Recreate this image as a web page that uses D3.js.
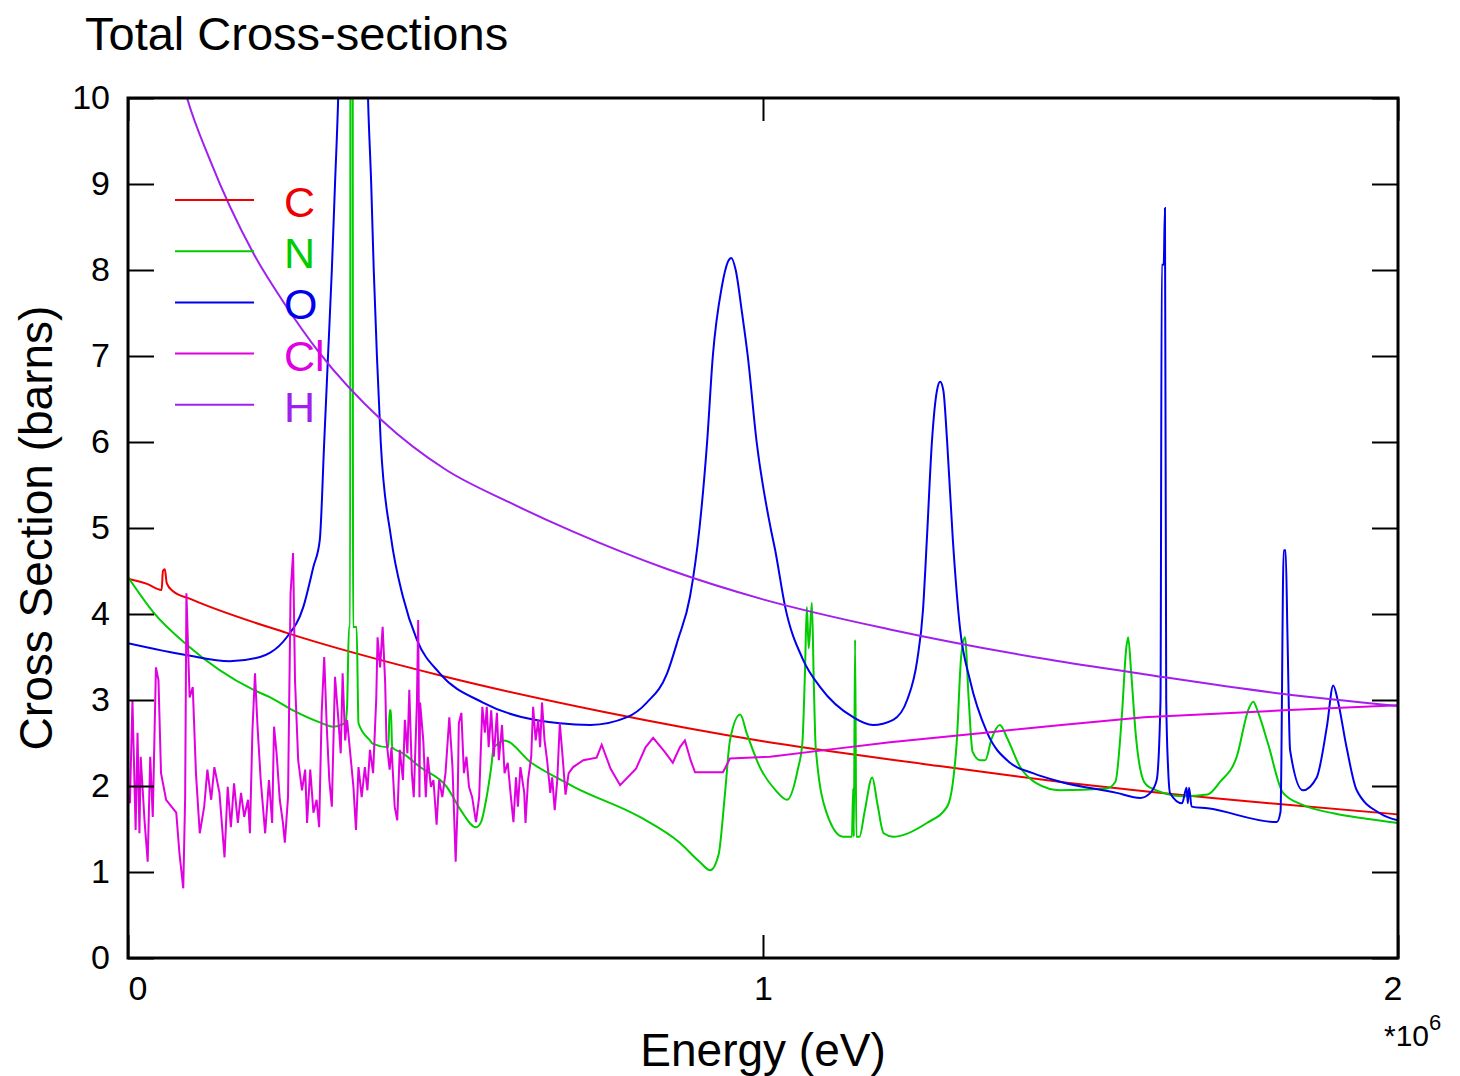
<!DOCTYPE html>
<html>
<head>
<meta charset="utf-8">
<script src="https://cdn.jsdelivr.net/npm/d3@7"></script>
<style>
  body { margin: 0; background: #fff; }
  svg { display: block; font-family: "Liberation Sans", Arial, Helvetica, sans-serif; }
</style>
</head>
<body>
<svg id="chart" width="1460" height="1076"></svg>
<script>
// energies in units of 1e6 eV, cross sections in barns
const carbon = [
  [0, 4.41], [0.03, 4.35], [0.053, 4.28], [0.055, 4.5], [0.058, 4.52], [0.061, 4.36],
  [0.07, 4.27], [0.1, 4.17], [0.25, 3.78], [0.5, 3.27], [0.75, 2.86], [1.0, 2.52],
  [1.25, 2.26], [1.5, 2.02], [1.75, 1.83], [2.0, 1.67]
];

const nitrogen = [
  [0, 4.43], [0.04, 4.02], [0.093, 3.64], [0.197, 3.12], [0.224, 3.03], [0.26, 2.88],
  [0.302, 2.74], [0.323, 2.69], [0.342, 2.73], [0.345, 2.92], [0.348, 3.85], [0.3498, 3.85],
  [0.3505, 14], [0.3535, 14], [0.3545, 3.85], [0.36, 3.85], [0.363, 2.73], [0.381, 2.53],
  [0.386, 2.49], [0.41, 2.45], [0.412, 2.88], [0.414, 2.88], [0.416, 2.45], [0.433, 2.38],
  [0.46, 2.22], [0.502, 1.99], [0.524, 1.72], [0.548, 1.52], [0.556, 1.58], [0.564, 1.84],
  [0.572, 2.22], [0.576, 2.45], [0.581, 2.48], [0.592, 2.53], [0.635, 2.27], [0.687, 2.05],
  [0.702, 1.99], [0.806, 1.64], [0.869, 1.34], [0.9, 1.12], [0.917, 1.02], [0.93, 1.2],
  [0.94, 1.9], [0.948, 2.53], [0.964, 2.83], [0.975, 2.6], [0.995, 2.22], [1.02, 1.95],
  [1.038, 1.84], [1.055, 2.2], [1.062, 2.5], [1.066, 3.3], [1.069, 4.08], [1.072, 3.6],
  [1.077, 4.13], [1.08, 3.2], [1.083, 2.45], [1.1, 1.69], [1.126, 1.41], [1.14, 1.41],
  [1.142, 1.97], [1.143, 1.41], [1.145, 3.7], [1.147, 1.41], [1.152, 1.41], [1.16, 1.7],
  [1.172, 2.1], [1.18, 1.8], [1.19, 1.45], [1.205, 1.41], [1.258, 1.57], [1.29, 1.76],
  [1.3, 2.1], [1.305, 2.5], [1.312, 3.5], [1.318, 3.73], [1.324, 3.0], [1.33, 2.4],
  [1.342, 2.3], [1.35, 2.3], [1.36, 2.55], [1.373, 2.71], [1.385, 2.55], [1.405, 2.22],
  [1.431, 2.03], [1.468, 1.95], [1.541, 1.97], [1.555, 2.05], [1.565, 2.8], [1.572, 3.6],
  [1.575, 3.73], [1.58, 3.3], [1.587, 2.6], [1.6, 2.05], [1.61, 1.98], [1.662, 1.88],
  [1.7, 1.9], [1.72, 2.05], [1.746, 2.34], [1.765, 2.9], [1.772, 2.98], [1.78, 2.85],
  [1.795, 2.5], [1.819, 1.92], [1.85, 1.78], [1.9, 1.68], [1.95, 1.62], [2.0, 1.57]
];

const oxygen = [
  [0, 3.66], [0.093, 3.52], [0.16, 3.45], [0.208, 3.5], [0.224, 3.55], [0.25, 3.73],
  [0.276, 4.08], [0.292, 4.55], [0.302, 4.86], [0.309, 6.0], [0.315, 7.0], [0.321, 8.0],
  [0.326, 9.0], [0.331, 10], [0.345, 16], [0.355, 30], [0.365, 16], [0.378, 10],
  [0.383, 9], [0.387, 8], [0.392, 7], [0.398, 6], [0.414, 4.9], [0.433, 4.2], [0.455, 3.7],
  [0.491, 3.31], [0.559, 2.97], [0.68, 2.73], [0.728, 2.71], [0.786, 2.8], [0.817, 2.97],
  [0.849, 3.31], [0.866, 3.7], [0.885, 4.2], [0.9, 5.0], [0.912, 6.0], [0.921, 7.0],
  [0.935, 7.8], [0.945, 8.1], [0.95, 8.14], [0.957, 8.0], [0.967, 7.5], [0.976, 7.0],
  [0.99, 6.0], [1.012, 5.0], [1.019, 4.75], [1.035, 4.08], [1.063, 3.47], [1.09, 3.15],
  [1.142, 2.8], [1.173, 2.71], [1.205, 2.77], [1.227, 3.0], [1.243, 3.47], [1.252, 4.05],
  [1.258, 4.86], [1.266, 6.0], [1.274, 6.6], [1.279, 6.7], [1.284, 6.6], [1.29, 6.0],
  [1.299, 4.86], [1.31, 3.85], [1.326, 3.23], [1.353, 2.62], [1.389, 2.27], [1.425, 2.15],
  [1.468, 2.05], [1.557, 1.92], [1.594, 1.86], [1.61, 1.92], [1.62, 2.07], [1.626, 3.0],
  [1.628, 8.06], [1.631, 8.06], [1.633, 8.72], [1.635, 3.0], [1.638, 2.2], [1.641, 1.92],
  [1.66, 1.8], [1.667, 1.98], [1.669, 1.8], [1.671, 1.98], [1.675, 1.76], [1.7, 1.74],
  [1.809, 1.58], [1.815, 1.7], [1.82, 4.74], [1.823, 4.74], [1.826, 3.73], [1.83, 2.42],
  [1.85, 1.95], [1.872, 2.1], [1.888, 2.69], [1.898, 3.17], [1.905, 3.0], [1.919, 2.45],
  [1.935, 1.95], [1.972, 1.68], [2.0, 1.6]
];

const chlorine = [
  [0, 1.85], [0.003, 1.8], [0.007, 3.0], [0.012, 1.49], [0.015, 2.62], [0.018, 1.45],
  [0.02, 2.34], [0.026, 1.6], [0.031, 1.12], [0.035, 2.34], [0.039, 1.64], [0.044, 3.38],
  [0.048, 3.23], [0.052, 2.15], [0.06, 1.84], [0.076, 1.69], [0.081, 1.22], [0.087, 0.81],
  [0.09, 1.87], [0.092, 4.24], [0.097, 3.03], [0.102, 3.15], [0.107, 2.15], [0.113, 1.45],
  [0.12, 1.76], [0.125, 2.19], [0.131, 1.84], [0.136, 2.22], [0.144, 1.92], [0.152, 1.17],
  [0.157, 1.99], [0.162, 1.52], [0.167, 2.03], [0.173, 1.57], [0.178, 1.92], [0.183, 1.64],
  [0.189, 1.84], [0.192, 1.45], [0.196, 2.65], [0.2, 3.31], [0.204, 2.69], [0.209, 2.07],
  [0.216, 1.45], [0.222, 2.07], [0.227, 1.57], [0.23, 2.69], [0.234, 2.38], [0.239, 1.84],
  [0.244, 1.57], [0.247, 1.34], [0.252, 1.87], [0.256, 4.24], [0.26, 4.71], [0.263, 3.23],
  [0.268, 2.3], [0.274, 1.95], [0.279, 2.19], [0.282, 1.57], [0.287, 2.19], [0.292, 1.69],
  [0.297, 1.84], [0.301, 1.52], [0.305, 2.85], [0.309, 3.5], [0.313, 2.69], [0.317, 2.07],
  [0.321, 1.76], [0.326, 3.27], [0.331, 2.8], [0.335, 2.38], [0.338, 3.31], [0.342, 2.53],
  [0.345, 2.77], [0.35, 2.38], [0.355, 1.99], [0.359, 1.49], [0.363, 2.22], [0.368, 1.87],
  [0.373, 2.22], [0.377, 1.95], [0.381, 2.42], [0.386, 2.15], [0.391, 3.03], [0.393, 3.73],
  [0.397, 3.38], [0.401, 3.85], [0.405, 3.2], [0.407, 2.53], [0.412, 2.19], [0.415, 2.45],
  [0.42, 1.76], [0.424, 1.6], [0.428, 2.42], [0.433, 2.07], [0.436, 2.77], [0.44, 2.38],
  [0.443, 3.12], [0.447, 2.15], [0.45, 1.87], [0.455, 2.97], [0.457, 3.93], [0.459, 1.87],
  [0.46, 2.97], [0.465, 2.53], [0.469, 1.87], [0.472, 2.34], [0.477, 1.99], [0.481, 2.07],
  [0.486, 1.55], [0.49, 2.07], [0.495, 1.87], [0.5, 2.15], [0.506, 2.8], [0.511, 2.22],
  [0.516, 1.12], [0.519, 1.76], [0.521, 2.73], [0.525, 2.85], [0.529, 2.15], [0.533, 2.34],
  [0.537, 1.99], [0.542, 1.87], [0.548, 1.58], [0.553, 1.87], [0.558, 2.92], [0.562, 2.62],
  [0.565, 2.92], [0.568, 2.45], [0.572, 2.88], [0.576, 2.34], [0.581, 2.85], [0.584, 2.3],
  [0.589, 2.71], [0.593, 2.15], [0.598, 2.27], [0.603, 1.87], [0.607, 1.58], [0.611, 2.1],
  [0.614, 1.76], [0.618, 2.22], [0.624, 1.92], [0.626, 1.57], [0.63, 2.07], [0.635, 2.34],
  [0.638, 2.92], [0.642, 2.53], [0.646, 2.77], [0.649, 2.45], [0.652, 2.97], [0.656, 2.53],
  [0.66, 2.3], [0.665, 1.92], [0.668, 2.1], [0.672, 1.72], [0.676, 2.07], [0.68, 2.73],
  [0.684, 2.38], [0.689, 1.9], [0.694, 2.15], [0.701, 2.22], [0.717, 2.3], [0.738, 2.33],
  [0.746, 2.48], [0.76, 2.2], [0.775, 2.01], [0.8, 2.2], [0.815, 2.45], [0.827, 2.56],
  [0.845, 2.4], [0.858, 2.27], [0.869, 2.45], [0.877, 2.53], [0.886, 2.3], [0.893, 2.16],
  [0.937, 2.16], [0.948, 2.32], [1.011, 2.34], [1.1, 2.42], [1.2, 2.51], [1.35, 2.62],
  [1.47, 2.71], [1.6, 2.8], [1.82, 2.88], [2.0, 2.94]
];

const hydrogen = [
  [0.06, 11.0], [0.093, 10], [0.129, 9.28], [0.197, 8.2], [0.25, 7.57], [0.3, 7.05],
  [0.4, 6.25], [0.5, 5.68], [0.6, 5.3], [0.7, 4.96], [0.85, 4.52], [1.0, 4.17],
  [1.2, 3.82], [1.45, 3.47], [1.6, 3.3], [1.82, 3.07], [2.0, 2.93]
];

const seriesNames = ["C", "N", "O", "Cl", "H"];
const seriesColors = ["#ee0000", "#00cc00", "#0000ee", "#e000e0", "#a020f0"];
const seriesData = [carbon, nitrogen, oxygen, chlorine, hydrogen];
// Cl is a jagged resonance forest, the others are smooth evaluated curves
const seriesSmooth = [true, true, true, false, true];

const xTicks = [0, 1, 2];
const yTicks = [0, 1, 2, 3, 4, 5, 6, 7, 8, 9, 10];

const svg = d3.select("#chart");
const plot = { left: 128, right: 1398, top: 98, bottom: 958 };

const x = d3.scaleLinear().domain([0, 2]).range([plot.left, plot.right]);
const y = d3.scaleLinear().domain([0, 10]).range([plot.bottom, plot.top]);

svg.append("defs")
  .append("clipPath")
  .attr("id", "plot-clip")
  .append("rect")
  .attr("x", plot.left)
  .attr("y", plot.top)
  .attr("width", plot.right - plot.left)
  .attr("height", plot.bottom - plot.top);

// data lines
const smoothLine = d3.line().x((d) => x(d[0])).y((d) => y(d[1])).curve(d3.curveMonotoneX);
const jaggedLine = d3.line().x((d) => x(d[0])).y((d) => y(d[1]));

svg.append("g")
  .attr("clip-path", "url(#plot-clip)")
  .selectAll("path")
  .data(seriesData)
  .join("path")
  .attr("d", (d, i) => (seriesSmooth[i] ? smoothLine(d) : jaggedLine(d)))
  .attr("fill", "none")
  .attr("stroke", (d, i) => seriesColors[i])
  .attr("stroke-width", 2);

// axes: ticks point inward on all four sides
const tickFont = (g) => g.selectAll("text")
  .attr("fill", "#000")
  .style("font-size", "34px");

svg.append("g")
  .attr("transform", `translate(${plot.left},0)`)
  .call(d3.axisLeft(y).tickValues(yTicks).tickSize(-26).tickPadding(18).tickFormat(d3.format("d")))
  .call(tickFont);

svg.append("g")
  .attr("transform", `translate(${plot.right},0)`)
  .call(d3.axisRight(y).tickValues(yTicks).tickSize(-26).tickFormat(""));

const bottomAxis = svg.append("g")
  .attr("transform", `translate(0,${plot.bottom})`)
  .call(d3.axisBottom(x).tickValues(xTicks).tickSize(-23).tickPadding(18).tickFormat(d3.format("d")))
  .call(tickFont);

bottomAxis.selectAll("text")
  .attr("text-anchor", (d, i) => (i === 0 ? "start" : i === xTicks.length - 1 ? "end" : "middle"))
  .attr("dx", (d, i) => (i === xTicks.length - 1 ? 4 : 0));

svg.append("g")
  .attr("transform", `translate(0,${plot.top})`)
  .call(d3.axisTop(x).tickValues(xTicks).tickSize(-23).tickFormat(""));

svg.selectAll(".domain").remove();
svg.selectAll(".tick line").attr("stroke", "#000").attr("stroke-width", 2);

svg.append("rect")
  .attr("x", plot.left)
  .attr("y", plot.top)
  .attr("width", plot.right - plot.left)
  .attr("height", plot.bottom - plot.top)
  .attr("fill", "none")
  .attr("stroke", "#000")
  .attr("stroke-width", 3);

// titles
svg.append("text")
  .attr("x", 85)
  .attr("y", 50)
  .style("font-size", "47px")
  .text("Total Cross-sections");

svg.append("text")
  .attr("x", (plot.left + plot.right) / 2)
  .attr("y", 1066)
  .attr("text-anchor", "middle")
  .style("font-size", "46px")
  .text("Energy (eV)");

svg.append("text")
  .attr("transform", `translate(52,${(plot.top + plot.bottom) / 2}) rotate(-90)`)
  .attr("text-anchor", "middle")
  .style("font-size", "46px")
  .text("Cross Section (barns)");

const expLabel = svg.append("text")
  .attr("x", 1384)
  .attr("y", 1046)
  .style("font-size", "30px");
expLabel.append("tspan").text("*10");
expLabel.append("tspan").attr("dy", -16).style("font-size", "22px").text("6");

// legend
const legend = svg.append("g")
  .selectAll("g")
  .data(seriesNames)
  .join("g")
  .attr("transform", (d, i) => `translate(0,${200 + i * 51.2})`);

legend.append("line")
  .attr("x1", 175)
  .attr("x2", 254)
  .attr("stroke", (d, i) => seriesColors[i])
  .attr("stroke-width", 2);

legend.append("text")
  .attr("x", 284)
  .attr("y", 17)
  .attr("fill", (d, i) => seriesColors[i])
  .style("font-size", "43px")
  .text((d) => d);
</script>
</body>
</html>
